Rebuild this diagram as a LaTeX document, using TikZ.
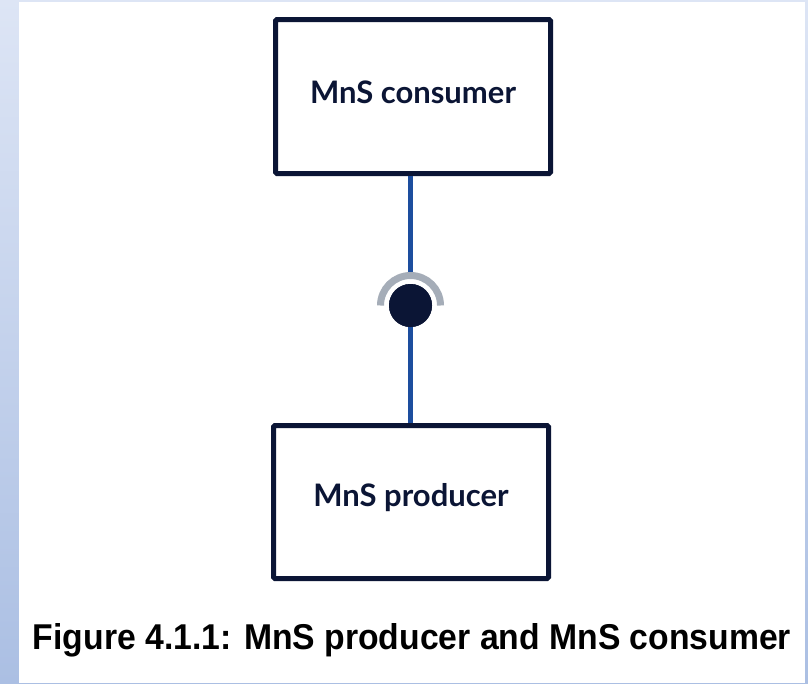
\documentclass[tikz,border=0pt]{standalone}
\usepackage{fontspec}
\usepackage{graphicx}
\setmainfont{Liberation Sans}
\newfontfamily\boxfont{Lato}
\usetikzlibrary{calc}
\definecolor{navy}{HTML}{0B1535}
\definecolor{linkblue}{HTML}{1D4E9E}
\definecolor{arcgray}{HTML}{A5ADB8}
\definecolor{bgtop}{HTML}{DDE5F5}
\definecolor{bgbot}{HTML}{ABBFE3}
\tikzset{
  mnsbox/.style={draw=navy, line width=5pt, fill=white, rounded corners=1.5pt,
    minimum width=275pt, font=\boxfont\bfseries\fontsize{31pt}{35pt}\selectfont,
    text=navy, inner sep=0pt},
  link/.style={draw=linkblue, line width=5pt},
  socket/.style={draw=arcgray, line width=7pt},
  ball/.style={circle, fill=navy, minimum size=43pt, inner sep=0pt},
}
\begin{document}
\begin{tikzpicture}[x=1pt,y=-1pt]
\useasboundingbox (0,0) rectangle (808,683);
\shade[top color=bgtop, bottom color=bgbot] (0,0) rectangle (808,683);
\fill[white] (19,2) rectangle (805,683);

\node[mnsbox, minimum height=154pt, text depth=9pt] (cons) at (413,96.5) {MnS consumer};
\node[mnsbox, minimum height=153pt, text depth=15pt] (prod) at (411,502) {MnS producer};

\node[ball] (dot) at (410.5,305.5) {};
\coordinate (arctop) at ($(dot.center)+(0,-33.5)$);
\draw[link] (cons.south -| dot.center) -- (arctop);
\draw[link] (dot.center) -- (prod.north -| dot.center);
\node[ball] at (dot.center) {};
\draw[socket] ($(dot.center)+(30,0)$) arc[start angle=0, end angle=-180, radius=30];

\node[anchor=base, inner sep=0pt] (caption) at (412,649)
  {\resizebox{758pt}{26pt}{\bfseries Figure 4.1.1: MnS producer and MnS consumer}};
\end{tikzpicture}
\end{document}
